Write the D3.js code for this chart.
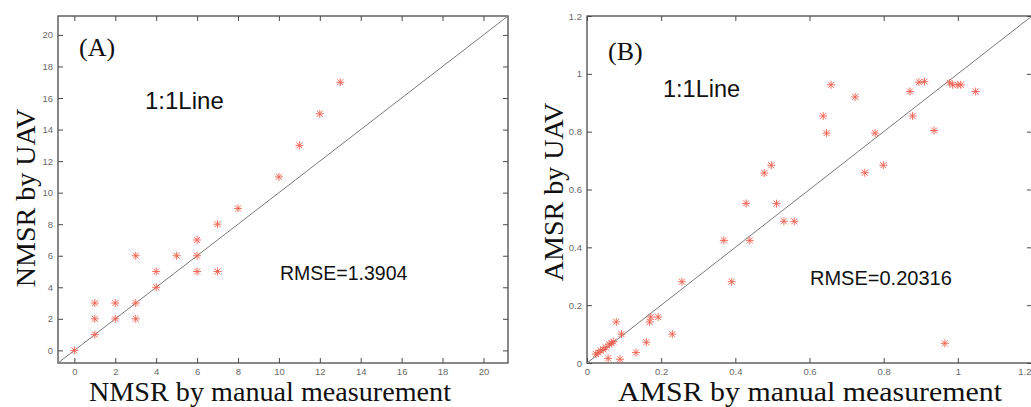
<!DOCTYPE html>
<html>
<head>
<meta charset="utf-8">
<script src="https://cdn.jsdelivr.net/npm/d3@7"></script>
<style>
  html, body { margin: 0; padding: 0; background: #fff; }
  svg { display: block; }
</style>
</head>
<body>
<svg id="chart" width="1031" height="407"></svg>
<script>
// ---------- Data ----------
// Panel A: NMSR
const nmsrManual = [0, 1, 1, 1, 2, 2, 3, 3, 3, 4, 4, 5, 6, 6, 6, 7, 7, 8, 10, 11, 12, 13];
const nmsrUAV    = [0, 1, 2, 3, 2, 3, 2, 3, 6, 4, 5, 6, 5, 6, 7, 5, 8, 9, 11, 13, 15, 17];
const nmsrTicks  = [0, 2, 4, 6, 8, 10, 12, 14, 16, 18, 20];
const nmsrTickLabels = ["0", "2", "4", "6", "8", "10", "12", "14", "16", "18", "20"];

// Panel B: AMSR
const amsrManual = [0.024, 0.030, 0.037, 0.044, 0.051, 0.060, 0.066, 0.071, 0.057, 0.089,
                    0.079, 0.093, 0.132, 0.160, 0.169, 0.172, 0.192, 0.230, 0.256, 0.369,
                    0.390, 0.439, 0.429, 0.478, 0.497, 0.511, 0.531, 0.559, 0.637, 0.646,
                    0.658, 0.723, 0.749, 0.777, 0.799, 0.871, 0.878, 0.895, 0.910, 0.936,
                    0.965, 0.978, 0.986, 1.000, 1.008, 1.048];
const amsrUAV    = [0.031, 0.036, 0.043, 0.047, 0.054, 0.065, 0.068, 0.074, 0.016, 0.013,
                    0.142, 0.100, 0.036, 0.072, 0.142, 0.159, 0.159, 0.100, 0.281, 0.424,
                    0.281, 0.424, 0.552, 0.657, 0.684, 0.551, 0.490, 0.490, 0.854, 0.795,
                    0.962, 0.920, 0.658, 0.795, 0.684, 0.939, 0.854, 0.971, 0.973, 0.804,
                    0.068, 0.969, 0.962, 0.962, 0.962, 0.939];
const amsrTicks  = [0, 0.2, 0.4, 0.6, 0.8, 1, 1.2];
const amsrTickLabels = ["0", "0.2", "0.4", "0.6", "0.8", "1", "1.2"];

const panels = [
  {
    xs: nmsrManual, ys: nmsrUAV, ticks: nmsrTicks, labels: nmsrTickLabels,
    domain: [-0.8, 21.2],
    box: { left: 58, right: 508, top: 16, bottom: 363 },
    tag: "(A)", tagPos: [79, 56],
    lineLbl: [145, 109, 24],
    rmse: "RMSE=1.3904", rmsePos: [280, 280], rmseSize: 19.5,
    xTitle: "NMSR by manual measurement", xTitleX: 270, xTitleW: 362,
    yTitle: "NMSR by UAV", yTitleX: 35, yTitleY: 198
  },
  {
    xs: amsrManual, ys: amsrUAV, ticks: amsrTicks, labels: amsrTickLabels,
    domain: [0, 1.2],
    box: { left: 587, right: 1032, top: 16, bottom: 363 },
    tag: "(B)", tagPos: [608, 60],
    lineLbl: [663, 97, 23.5],
    rmse: "RMSE=0.20316", rmsePos: [810, 285], rmseSize: 20,
    xTitle: "AMSR by manual measurement", xTitleX: 810, xTitleW: 384,
    yTitle: "AMSR by UAV", yTitleX: 563, yTitleY: 192
  }
];

const W = 1031;
const svg = d3.select("#chart");
svg.append("rect").attr("width", W).attr("height", 407).attr("fill", "#fff");

const sans = "Arial, 'Liberation Sans', Helvetica, sans-serif";
const serif = "'Times New Roman', 'Liberation Serif', Times, serif";
const frameColor = "#4a4a4a";
const markerColor = "#f0604f";
const markerPath = "M-4,0H4M0,-4V4M-3,-3L3,3M-3,3L3,-3";

panels.forEach(p => {
  const b = p.box;
  const x = d3.scaleLinear().domain(p.domain).range([b.left, b.right]);
  const y = d3.scaleLinear().domain(p.domain).range([b.bottom, b.top]);
  const g = svg.append("g");

  const fmt = (d, i) => p.labels[i];

  // bottom axis (ticks inward)
  const ax = g.append("g").attr("transform", `translate(0,${b.bottom})`)
    .call(d3.axisBottom(x).tickValues(p.ticks).tickSize(-5).tickPadding(5).tickFormat(fmt));
  // top axis
  const at = g.append("g").attr("transform", `translate(0,${b.top})`)
    .call(d3.axisTop(x).tickValues(p.ticks).tickSize(-5).tickFormat(""));
  // left axis
  const al = g.append("g").attr("transform", `translate(${b.left},0)`)
    .call(d3.axisLeft(y).tickValues(p.ticks).tickSize(-5).tickPadding(5).tickFormat(fmt));
  // right axis
  const ar = g.append("g").attr("transform", `translate(${b.right},0)`)
    .call(d3.axisRight(y).tickValues(p.ticks).tickSize(-5).tickFormat(""));

  [ax, at, al, ar].forEach(a => {
    a.select(".domain").remove();
    a.selectAll(".tick line").attr("stroke", frameColor).attr("stroke-width", 1);
    a.selectAll(".tick text").attr("fill", "#6a6a6a")
      .style("font-family", sans).style("font-size", "9.5px");
  });
  // keep a label that would run past the page edge inside it
  ax.selectAll(".tick").each(function(d) {
    if (x(d) + 8 > W) d3.select(this).select("text").attr("text-anchor", "end").attr("x", W - x(d));
  });

  // frame
  g.append("rect")
    .attr("x", b.left).attr("y", b.top)
    .attr("width", b.right - b.left).attr("height", b.bottom - b.top)
    .attr("fill", "none").attr("stroke", frameColor).attr("stroke-width", 1.3);

  // 1:1 line
  g.append("line")
    .attr("x1", x(p.domain[0])).attr("y1", y(p.domain[0]))
    .attr("x2", x(p.domain[1])).attr("y2", y(p.domain[1]))
    .attr("stroke", "#7a7a7a").attr("stroke-width", 1);

  // points
  g.append("g").selectAll("path")
    .data(p.xs.map((v, i) => [v, p.ys[i]]))
    .join("path")
    .attr("transform", d => `translate(${x(d[0])},${y(d[1])})`)
    .attr("d", markerPath)
    .attr("fill", "none")
    .attr("stroke", markerColor)
    .attr("stroke-width", 1)
    .attr("opacity", 0.9);

  // texts
  g.append("text").attr("x", p.tagPos[0]).attr("y", p.tagPos[1])
    .style("font-family", serif).style("font-size", "26px").attr("fill", "#111")
    .text(p.tag);
  g.append("text").attr("x", p.lineLbl[0]).attr("y", p.lineLbl[1])
    .style("font-family", sans).style("font-size", p.lineLbl[2] + "px").attr("fill", "#111")
    .text("1:1Line");
  g.append("text").attr("x", p.rmsePos[0]).attr("y", p.rmsePos[1])
    .style("font-family", sans).style("font-size", p.rmseSize + "px").attr("fill", "#111")
    .text(p.rmse);

  // axis titles
  svg.append("text").attr("x", p.xTitleX).attr("y", 401)
    .attr("text-anchor", "middle")
    .attr("textLength", p.xTitleW).attr("lengthAdjust", "spacingAndGlyphs")
    .style("font-family", serif).style("font-size", "27px").attr("fill", "#111")
    .text(p.xTitle);
  svg.append("text")
    .attr("transform", `translate(${p.yTitleX},${p.yTitleY}) rotate(-90)`)
    .attr("text-anchor", "middle")
    .style("font-family", serif).style("font-size", "28px").attr("fill", "#111")
    .text(p.yTitle);
});
</script>
</body>
</html>
